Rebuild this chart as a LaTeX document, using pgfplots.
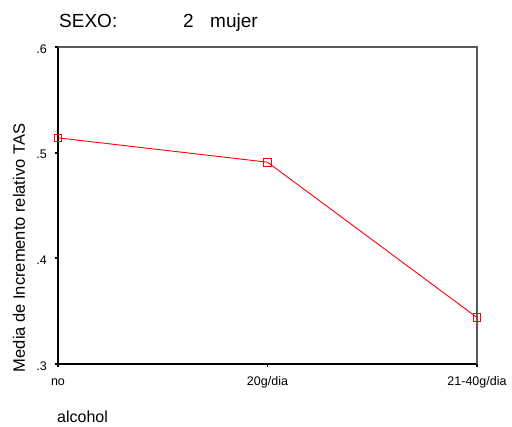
\documentclass[border=0pt]{standalone}
\usepackage{pgfplots}
\pgfplotsset{compat=1.18}
\usepackage{fontspec}
\setmainfont{Liberation Sans}
\begin{document}
\begin{tikzpicture}
\useasboundingbox (0,0) rectangle (512bp,427bp);
\begin{axis}[
  at={(58bp,63bp)}, anchor=south west,
  scale only axis, width=419bp, height=317bp,
  xmin=0, xmax=2, ymin=0.3, ymax=0.6,
  axis x line*=bottom, axis y line*=left,
  axis line style={black, line width=1.3bp, -},
  xtick={0,1,2}, xticklabels={no,20g/dia,21-40g/dia},
  ytick={0.3,0.4,0.5,0.6}, yticklabels={.3,.4,.5,.6},
  tick align=outside, major tick length=3bp,
  tick style={black, line width=1.8bp},
  xticklabel style={font=\fontsize{12.5bp}{14bp}\selectfont, anchor=north, inner sep=0pt, text height=9bp, text depth=2.5bp, yshift=-9bp},
  yticklabel style={font=\fontsize{12.5bp}{14bp}\selectfont, anchor=east, inner sep=0pt, xshift=-8bp, yshift=-2bp},
  every axis y label/.style={at={(axis description cs:-0.093,0.366)}, rotate=90, anchor=center, font=\fontsize{16.5bp}{18bp}\selectfont},
  ylabel={Media de Incremento relativo TAS},
  clip=false,
]
\draw[gray!70!black, line width=1.1bp] (rel axis cs:0,1) -- (rel axis cs:1,1) -- (rel axis cs:1,0);
\addplot[red, line width=0.9bp, mark=square, mark size=3.8bp, mark options={solid, fill=none, line width=0.9bp}]
  coordinates {(0,0.514) (1,0.491) (2,0.344)};
\end{axis}
\node[anchor=base west, inner sep=0pt, font=\fontsize{19bp}{22bp}\selectfont] at (59bp,399bp) {SEXO:};
\node[anchor=base west, inner sep=0pt, font=\fontsize{19bp}{22bp}\selectfont] at (183bp,399bp) {2};
\node[anchor=base west, inner sep=0pt, font=\fontsize{19bp}{22bp}\selectfont] at (210bp,399bp) {mujer};
\node[anchor=base west, inner sep=0pt, font=\fontsize{16bp}{18bp}\selectfont] at (57bp,4.5bp) {alcohol};
\end{tikzpicture}
\end{document}
